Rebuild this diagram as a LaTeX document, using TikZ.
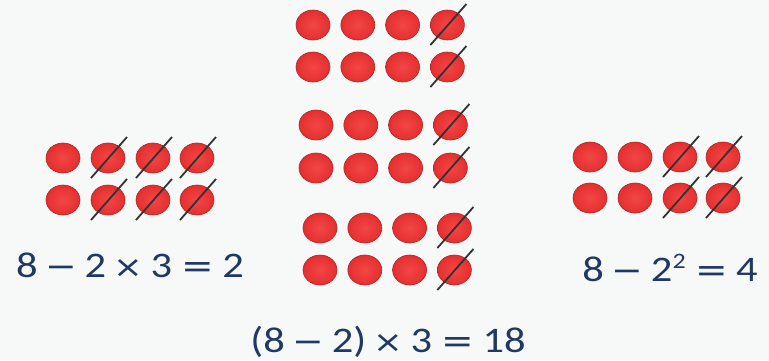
\documentclass[tikz,border=0pt]{standalone}
\usepackage{fontspec}
\setmainfont{Carlito}
\newfontfamily\opfont{DejaVu Sans}

\definecolor{bgcol}{HTML}{F7F9F9}
\definecolor{dotin}{HTML}{F24646}
\definecolor{dotmid}{HTML}{E32A2A}
\definecolor{dotrim}{HTML}{A82828}
\definecolor{eqcol}{HTML}{1F3864}

\pgfdeclareradialshading{dotshade}{\pgfpoint{0bp}{0bp}}{%
  color(0bp)=(dotin); color(30bp)=(dotmid); color(44bp)=(dotmid); color(50bp)=(dotrim)}

\tikzset{
  dot/.style={ellipse, minimum width=34pt, minimum height=30pt, inner sep=0pt,
    shading=dotshade, draw=dotrim, line width=0.6pt},
  slash/.style={black!80, line width=1.8pt},
  eq/.style={eqcol, anchor=base, inner sep=0pt,
    font=\fontsize{36}{40}\selectfont}
}
\newcommand\mi{\hspace{6.5pt}{\opfont\fontsize{32}{40}\selectfont −}\hspace{6.5pt}}
\newcommand\ti{\hspace{6.5pt}{\opfont\fontsize{30}{40}\selectfont ×}\hspace{6pt}}
\newcommand\eqs{\hspace{8pt}{\opfont\fontsize{33}{40}\selectfont =}\hspace{7pt}}
\newcommand\wide[1]{\scalebox{1.18}[1]{#1}}

\usetikzlibrary{shapes.geometric}

\begin{document}
\begin{tikzpicture}[x=1pt,y=-1pt]

\fill[bgcol] (0,0) rectangle (769,360);
\useasboundingbox (0,0) rectangle (769,360);

% ---- left: 8 - 2 x 3 ----
\foreach \r/\y in {1/158,2/200}
  \foreach \c/\x in {1/63,2/108,3/153,4/197}
    \node[dot] (l\r\c) at (\x,\y) {};
\foreach \r in {1,2}
  \foreach \c in {2,3,4}
    \draw[slash] ([shift={(-17,20)}]l\r\c.center) -- ([shift={(19,-21)}]l\r\c.center);

% ---- middle: three groups of (8 - 2) ----
\foreach \r/\y/\dx in {1/25/0,2/67/0,3/125/3,4/168/3,5/228/7,6/270/7}
  \foreach \c in {1,...,4}
    \node[dot] (m\r\c) at ({313+44.8*(\c-1)+\dx},\y) {};
\foreach \r in {1,...,6}
  \draw[slash] ([shift={(-17,20)}]m\r4.center) -- ([shift={(19,-21)}]m\r4.center);

% ---- right: 8 - 2^2 ----
\foreach \r/\y in {1/157,2/198}
  \foreach \c/\x in {1/590,2/635,3/680,4/723}
    \node[dot] (r\r\c) at (\x,\y) {};
\foreach \r in {1,2}
  \foreach \c in {3,4}
    \draw[slash] ([shift={(-17,20)}]r\r\c.center) -- ([shift={(19,-21)}]r\r\c.center);

% ---- equations ----
\node[eq] (eqleft) at (130,277) {\wide{8\mi 2\ti 3\eqs 2}};
\node[eq] (eqright) at (670,281)
  {\wide{8\mi 2\raisebox{0.36em}{\fontsize{22}{22}\selectfont 2}\eqs 4}};
\node[eq] (eqmid) at (388,352) {\wide{(8\mi 2)\ti 3\eqs 18}};

\end{tikzpicture}
\end{document}
